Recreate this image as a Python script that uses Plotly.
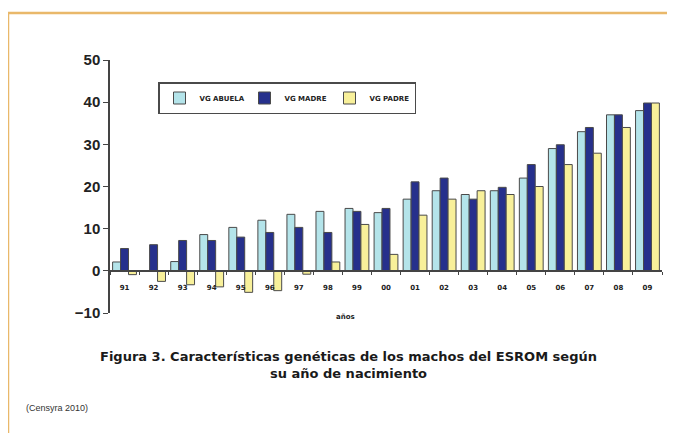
import plotly.graph_objects as go

years = ["91", "92", "93", "94", "95", "96", "97", "98", "99", "00",
         "01", "02", "03", "04", "05", "06", "07", "08", "09"]
vg_abuela = [2.1, 0, 2.2, 8.6, 10.3, 12.0, 13.4, 14.1, 14.8, 13.8,
             17.0, 19.0, 18.1, 19.0, 22.0, 29.0, 33.0, 37.0, 38.0]
vg_madre = [5.3, 6.2, 7.2, 7.2, 8.0, 9.1, 10.3, 9.1, 14.1, 14.8,
            21.1, 22.0, 17.0, 19.8, 25.2, 29.9, 34.0, 37.0, 39.8]
vg_padre = [-0.9, -2.5, -3.3, -3.8, -5.1, -4.7, -0.8, 2.1, 11.0, 3.9,
            13.2, 17.0, 19.0, 18.1, 20.0, 25.2, 27.9, 34.0, 39.8]

series = [
    ("VG ABUELA", vg_abuela, "#b4e4ea"),
    ("VG MADRE", vg_madre, "#26308c"),
    ("VG PADRE", vg_padre, "#f8f09a"),
]

# page offset of the figure (browser body margin)
OFF = 8
PL, PR, PT, PB = 110, 662, 60, 313   # plot area in page pixels
W, H = 675, 433
ML, MR, MT = PL - OFF, W + OFF - PR, PT - OFF
MB = H + OFF - PB
plot_w = PR - PL
plot_h = PB - PT


def px(xp):
    return (xp - PL) / plot_w


def py(yp):
    return (PB - yp) / plot_h


fig = go.Figure()
for name, vals, col in series:
    fig.add_trace(go.Bar(
        x=years, y=vals, name=name,
        marker=dict(color=col, line=dict(color="#4a4a4a", width=1)),
    ))

fig.update_layout(
    width=W, height=H,
    margin=dict(l=ML, r=MR, t=MT, b=MB),
    paper_bgcolor="white", plot_bgcolor="white",
    barmode="group", bargap=0.18, bargroupgap=0.0,
    showlegend=True,
    legend=dict(
        orientation="h", x=px(158), y=py(82), xanchor="left", yanchor="top",
        bgcolor="white", bordercolor="#4a4a4a", borderwidth=1.5,
        font=dict(family="DejaVu Sans", size=7, color="#222222", weight="bold"),
        itemwidth=30, entrywidth=40, entrywidthmode="pixels",
    ),
    font=dict(family="DejaVu Sans", color="#222222"),
)

fig.update_yaxes(
    range=[-10, 50], dtick=10, showgrid=False, zeroline=False,
    showline=True, linecolor="#444444", linewidth=1.5,
    ticks="outside", ticklen=5, tickcolor="#444444",
    tickfont=dict(family="Liberation Sans", size=15, color="#222222", weight="bold"),
)
fig.update_xaxes(
    type="category", showgrid=False, zeroline=False,
    anchor="free", position=1 / 6,
    showline=True, linecolor="#444444", linewidth=1.5,
    ticks="outside", ticklen=3, tickcolor="#444444", tickson="boundaries",
    ticklabelstandoff=10,
    tickfont=dict(family="DejaVu Sans", size=7, color="#222222", weight="bold"),
)

fig.update_layout(annotations=[
    dict(text="años", x=px(345), y=py(317), xref="paper", yref="paper",
         yanchor="middle", showarrow=False,
         font=dict(family="DejaVu Sans", size=7, color="#222222", weight="bold")),
    dict(text="Figura 3. Características genéticas de los machos del ESROM según<br>su año de nacimiento",
         x=px(348), y=py(365), xref="paper", yref="paper", yanchor="middle",
         showarrow=False, align="center",
         font=dict(family="DejaVu Sans", size=13, color="#1a1a1a", weight="bold")),
    dict(text="(Censyra 2010)", x=px(24), y=py(408), xref="paper", yref="paper",
         xanchor="left", yanchor="middle", showarrow=False,
         font=dict(family="Liberation Sans", size=9, color="#333333")),
])

# orange frame around the figure
fig.add_shape(type="rect", xref="paper", yref="paper",
              x0=px(8), x1=px(720), y0=py(460), y1=py(13),
              line=dict(color="#e9b86a", width=2.5), fillcolor="rgba(0,0,0,0)",
              layer="below")

fig.write_html("out.html")
